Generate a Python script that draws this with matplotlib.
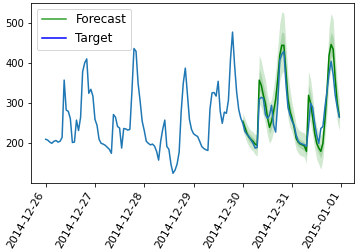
import numpy as np
import pandas as pd
import matplotlib
matplotlib.use("Agg")
import matplotlib.pyplot as plt
import matplotlib.dates as mdates
from matplotlib.lines import Line2D
from matplotlib.ticker import MultipleLocator

start = "2014-12-26 00:00"
forecast_start = "2014-12-30 00:00"

target = [
    210, 208, 203, 200, 205, 207, 203, 205, 215, 358, 283, 280, 262, 202, 203, 258, 232, 265, 379, 401, 411, 325, 335, 318,
    260, 245, 210, 200, 198, 195, 190, 185, 175, 272, 265, 242, 238, 188, 237, 236, 233, 235, 330, 437, 430, 350, 305, 255,
    232, 205, 200, 196, 198, 193, 180, 158, 205, 235, 258, 192, 185, 148, 125, 133, 148, 178, 280, 350, 388, 325, 260, 235,
    224, 220, 217, 205, 192, 187, 184, 182, 285, 326, 327, 318, 355, 280, 250, 278, 275, 308, 410, 478, 395, 328, 285, 263,
    250, 230, 222, 217, 208, 200, 188, 190, 310, 315, 312, 272, 262, 270, 295, 245, 228, 300, 408, 423, 430, 350, 290, 270,
    255, 245, 220, 205, 200, 198, 196, 193, 240, 300, 290, 250, 220, 200, 237, 242, 290, 330, 375, 405, 372, 320, 290, 265,
]

median = [255, 240, 225, 215, 210, 205, 198, 195, 358, 345, 320, 300, 265, 240, 255, 280,
          310, 360, 420, 445, 445, 380, 310, 280, 262, 240, 212, 203, 198, 196, 193, 180,
          320, 300, 265, 225, 200, 188, 180, 200, 260, 330, 420, 447, 435, 360, 300, 268]
upper90 = [275, 262, 248, 238, 232, 228, 222, 222, 420, 405, 380, 360, 320, 300, 310, 340,
           380, 440, 500, 529, 525, 450, 370, 335, 300, 275, 245, 235, 230, 228, 226, 215,
           380, 360, 320, 270, 240, 225, 220, 240, 310, 390, 490, 525, 510, 420, 350, 305]
lower90 = [232, 218, 202, 192, 185, 180, 172, 168, 300, 290, 270, 250, 220, 200, 210, 230,
           255, 300, 355, 375, 380, 320, 262, 240, 228, 208, 185, 175, 170, 168, 165, 150,
           265, 250, 220, 185, 160, 148, 135, 160, 215, 275, 360, 385, 375, 305, 255, 232]
upper50 = [263, 250, 235, 225, 220, 215, 208, 206, 385, 370, 345, 325, 285, 262, 275, 300,
           335, 390, 450, 478, 475, 405, 330, 298, 275, 252, 224, 214, 209, 207, 203, 192,
           345, 325, 285, 243, 215, 202, 195, 215, 280, 355, 450, 478, 465, 385, 320, 282]
lower50 = [246, 230, 215, 205, 200, 195, 188, 184, 333, 322, 298, 280, 248, 225, 238, 262,
           290, 335, 395, 418, 420, 358, 292, 265, 250, 228, 200, 192, 188, 185, 182, 168,
           297, 278, 247, 208, 186, 174, 163, 186, 242, 308, 395, 418, 408, 338, 282, 255]

legend_labels = ["Forecast", "Target"]

t_idx = pd.date_range(start, periods=len(target), freq="h")
f_idx = pd.date_range(forecast_start, periods=len(median), freq="h")

fig = plt.figure(figsize=(359 / 72, 252 / 72), dpi=72)
ax = fig.add_axes([31 / 359, 1 - 182.7 / 252, (354 - 31) / 359, (182.7 - 2.7) / 252])

ax.fill_between(f_idx, lower90, upper90, color="g", alpha=0.18, linewidth=0)
ax.fill_between(f_idx, lower50, upper50, color="g", alpha=0.18, linewidth=0)
ax.plot(f_idx, median, color="g", lw=1.5)
ax.plot(t_idx, target, color="#1f77b4", lw=1.5)

ax.set_ylim(101.5, 551.5)
ax.yaxis.set_major_locator(MultipleLocator(100))
ax.xaxis.set_major_locator(mdates.DayLocator())
ax.xaxis.set_major_formatter(mdates.DateFormatter("%Y-%m-%d"))
ax.tick_params(axis="y", labelsize=10)
ax.tick_params(axis="x", labelsize=11)
plt.setp(ax.get_xticklabels(), rotation=60, ha="right")

handles = [Line2D([], [], color="#2ca02c", lw=1.5), Line2D([], [], color="blue", lw=1.5)]
ax.legend(handles, legend_labels, loc="upper left", fontsize=12)

fig.savefig("out.png", dpi=72)
